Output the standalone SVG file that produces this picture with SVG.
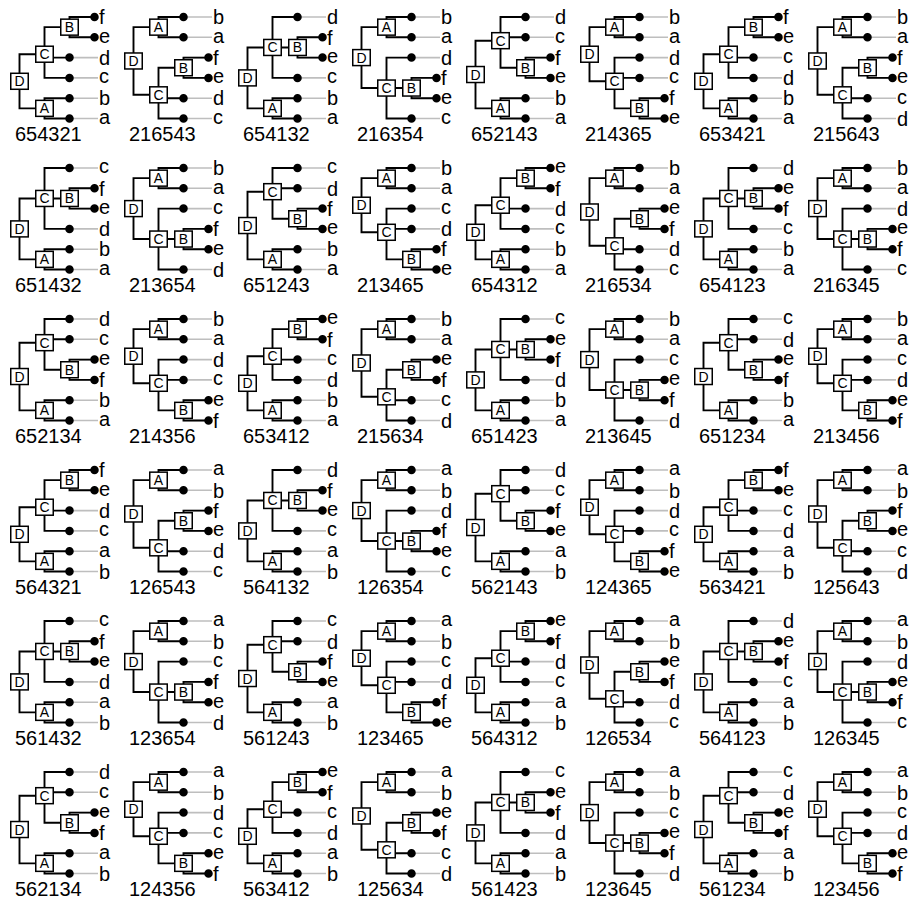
<svg xmlns="http://www.w3.org/2000/svg" xmlns:xlink="http://www.w3.org/1999/xlink" width="912" height="906" viewBox="0 0 912 906">
<style>
.e{fill:none;stroke:#000;stroke-width:1.9}
.g{fill:none;stroke:#bebebe;stroke-width:1.6}
.dt{fill:none;stroke:#000;stroke-width:8.5;stroke-linecap:round}
.bx{fill:#fff;stroke:#000;stroke-width:1.5}
text{font-family:"Liberation Sans",Arial,sans-serif;fill:#000}
.bt{font-size:14px;text-anchor:middle}
.lf,.lb{font-size:20px}
</style>
<defs>
<path id="gl" class="g" d="M69.5 17H98M69.5 37.3H98M69.5 57.6H98M69.5 77.9H98M69.5 98.2H98M69.5 118.5H98"/>
<rect id="bx" class="bx" x="-8.75" y="-8" width="17.5" height="16"/>
<path id="e1" class="e" d="M44.5 27.15H19.5V94.82H44.5M69.5 17H44.5V37.3H69.5M69.5 67.75H44.5V118.5H69.5M44.5 98.2H69.5M94.5 57.6H69.5V77.9H94.5"/>
<path id="e2" class="e" d="M44.5 27.15H19.5V88.05H44.5M69.5 17H44.5V37.3H69.5M69.5 57.6H44.5V118.5H69.5M44.5 88.05H69.5M94.5 77.9H69.5V98.2H94.5"/>
<path id="e3" class="e" d="M44.5 27.15H19.5V81.28H44.5M69.5 17H44.5V37.3H69.5M69.5 57.6H44.5V108.35H69.5M44.5 77.9H69.5M94.5 98.2H69.5V118.5H94.5"/>
<path id="e4" class="e" d="M44.5 54.22H19.5V108.35H44.5M69.5 98.2H44.5V118.5H69.5M69.5 27.15H44.5V77.9H69.5M44.5 57.6H69.5M94.5 17H69.5V37.3H94.5"/>
<path id="e5" class="e" d="M44.5 47.45H19.5V108.35H44.5M69.5 98.2H44.5V118.5H69.5M69.5 17H44.5V77.9H69.5M44.5 47.45H69.5M94.5 37.3H69.5V57.6H94.5"/>
<path id="e6" class="e" d="M44.5 40.68H19.5V108.35H44.5M69.5 98.2H44.5V118.5H69.5M69.5 17H44.5V67.75H69.5M44.5 37.3H69.5M94.5 57.6H69.5V77.9H94.5"/>
<path id="d1" class="dt" d="M69.5 17h.01M69.5 37.3h.01M69.5 98.2h.01M69.5 118.5h.01M94.5 57.6h.01M94.5 77.9h.01"/>
<path id="d2" class="dt" d="M69.5 17h.01M69.5 37.3h.01M69.5 57.6h.01M69.5 118.5h.01M94.5 77.9h.01M94.5 98.2h.01"/>
<path id="d3" class="dt" d="M69.5 17h.01M69.5 37.3h.01M69.5 57.6h.01M69.5 77.9h.01M94.5 98.2h.01M94.5 118.5h.01"/>
<path id="d4" class="dt" d="M69.5 57.6h.01M69.5 77.9h.01M69.5 98.2h.01M69.5 118.5h.01M94.5 17h.01M94.5 37.3h.01"/>
<path id="d5" class="dt" d="M69.5 17h.01M69.5 77.9h.01M69.5 98.2h.01M69.5 118.5h.01M94.5 37.3h.01M94.5 57.6h.01"/>
<path id="d6" class="dt" d="M69.5 17h.01M69.5 37.3h.01M69.5 98.2h.01M69.5 118.5h.01M94.5 57.6h.01M94.5 77.9h.01"/>
</defs>
<rect width="912" height="906" fill="#fff"/>

<g id="k1" transform="translate(0,0)">
<g class="conn"><use href="#gl"/><use href="#e4"/></g><use href="#d4"/>
<g id="k1D" transform="translate(19.5,81.28)"><use href="#bx"/><text class="bt" y="5">D</text></g>
<g id="k1A" transform="translate(44.5,108.35)"><use href="#bx"/><text class="bt" y="5">A</text></g>
<g id="k1C" transform="translate(44.5,54.22)"><use href="#bx"/><text class="bt" y="5">C</text></g>
<g id="k1B" transform="translate(69.5,27.15)"><use href="#bx"/><text class="bt" y="5">B</text></g>
<text class="lf" x="99" y="24.2">f</text><text class="lf" x="99" y="42.6">e</text><text class="lf" x="99" y="64.8">d</text><text class="lf" x="99" y="83.2">c</text><text class="lf" x="99" y="105.4">b</text><text class="lf" x="99" y="123.8">a</text>
<text class="lb" x="15" y="141">654321</text>
</g>

<g id="k2" transform="translate(114,0)">
<g class="conn"><use href="#gl"/><use href="#e1"/></g><use href="#d1"/>
<g id="k2D" transform="translate(19.5,60.98)"><use href="#bx"/><text class="bt" y="5">D</text></g>
<g id="k2A" transform="translate(44.5,27.15)"><use href="#bx"/><text class="bt" y="5">A</text></g>
<g id="k2C" transform="translate(44.5,94.82)"><use href="#bx"/><text class="bt" y="5">C</text></g>
<g id="k2B" transform="translate(69.5,67.75)"><use href="#bx"/><text class="bt" y="5">B</text></g>
<text class="lf" x="99" y="24.2">b</text><text class="lf" x="99" y="42.6">a</text><text class="lf" x="99" y="64.8">f</text><text class="lf" x="99" y="83.2">e</text><text class="lf" x="99" y="105.4">d</text><text class="lf" x="99" y="123.8">c</text>
<text class="lb" x="15" y="141">216543</text>
</g>

<g id="k3" transform="translate(228,0)">
<g class="conn"><use href="#gl"/><use href="#e5"/></g><use href="#d5"/>
<g id="k3D" transform="translate(19.5,77.9)"><use href="#bx"/><text class="bt" y="5">D</text></g>
<g id="k3A" transform="translate(44.5,108.35)"><use href="#bx"/><text class="bt" y="5">A</text></g>
<g id="k3C" transform="translate(44.5,47.45)"><use href="#bx"/><text class="bt" y="5">C</text></g>
<g id="k3B" transform="translate(69.5,47.45)"><use href="#bx"/><text class="bt" y="5">B</text></g>
<text class="lf" x="99" y="24.2">d</text><text class="lf" x="99" y="44.5">f</text><text class="lf" x="99" y="62.9">e</text><text class="lf" x="99" y="83.2">c</text><text class="lf" x="99" y="105.4">b</text><text class="lf" x="99" y="123.8">a</text>
<text class="lb" x="15" y="141">654132</text>
</g>

<g id="k4" transform="translate(342,0)">
<g class="conn"><use href="#gl"/><use href="#e2"/></g><use href="#d2"/>
<g id="k4D" transform="translate(19.5,57.6)"><use href="#bx"/><text class="bt" y="5">D</text></g>
<g id="k4A" transform="translate(44.5,27.15)"><use href="#bx"/><text class="bt" y="5">A</text></g>
<g id="k4C" transform="translate(44.5,88.05)"><use href="#bx"/><text class="bt" y="5">C</text></g>
<g id="k4B" transform="translate(69.5,88.05)"><use href="#bx"/><text class="bt" y="5">B</text></g>
<text class="lf" x="99" y="24.2">b</text><text class="lf" x="99" y="42.6">a</text><text class="lf" x="99" y="64.8">d</text><text class="lf" x="99" y="85.1">f</text><text class="lf" x="99" y="103.5">e</text><text class="lf" x="99" y="123.8">c</text>
<text class="lb" x="15" y="141">216354</text>
</g>

<g id="k5" transform="translate(456,0)">
<g class="conn"><use href="#gl"/><use href="#e6"/></g><use href="#d6"/>
<g id="k5D" transform="translate(19.5,74.52)"><use href="#bx"/><text class="bt" y="5">D</text></g>
<g id="k5A" transform="translate(44.5,108.35)"><use href="#bx"/><text class="bt" y="5">A</text></g>
<g id="k5C" transform="translate(44.5,40.68)"><use href="#bx"/><text class="bt" y="5">C</text></g>
<g id="k5B" transform="translate(69.5,67.75)"><use href="#bx"/><text class="bt" y="5">B</text></g>
<text class="lf" x="99" y="24.2">d</text><text class="lf" x="99" y="42.6">c</text><text class="lf" x="99" y="64.8">f</text><text class="lf" x="99" y="83.2">e</text><text class="lf" x="99" y="105.4">b</text><text class="lf" x="99" y="123.8">a</text>
<text class="lb" x="15" y="141">652143</text>
</g>

<g id="k6" transform="translate(570,0)">
<g class="conn"><use href="#gl"/><use href="#e3"/></g><use href="#d3"/>
<g id="k6D" transform="translate(19.5,54.22)"><use href="#bx"/><text class="bt" y="5">D</text></g>
<g id="k6A" transform="translate(44.5,27.15)"><use href="#bx"/><text class="bt" y="5">A</text></g>
<g id="k6C" transform="translate(44.5,81.28)"><use href="#bx"/><text class="bt" y="5">C</text></g>
<g id="k6B" transform="translate(69.5,108.35)"><use href="#bx"/><text class="bt" y="5">B</text></g>
<text class="lf" x="99" y="24.2">b</text><text class="lf" x="99" y="42.6">a</text><text class="lf" x="99" y="64.8">d</text><text class="lf" x="99" y="83.2">c</text><text class="lf" x="99" y="105.4">f</text><text class="lf" x="99" y="123.8">e</text>
<text class="lb" x="15" y="141">214365</text>
</g>

<g id="k7" transform="translate(684,0)">
<g class="conn"><use href="#gl"/><use href="#e4"/></g><use href="#d4"/>
<g id="k7D" transform="translate(19.5,81.28)"><use href="#bx"/><text class="bt" y="5">D</text></g>
<g id="k7A" transform="translate(44.5,108.35)"><use href="#bx"/><text class="bt" y="5">A</text></g>
<g id="k7C" transform="translate(44.5,54.22)"><use href="#bx"/><text class="bt" y="5">C</text></g>
<g id="k7B" transform="translate(69.5,27.15)"><use href="#bx"/><text class="bt" y="5">B</text></g>
<text class="lf" x="99" y="24.2">f</text><text class="lf" x="99" y="42.6">e</text><text class="lf" x="99" y="62.9">c</text><text class="lf" x="99" y="85.1">d</text><text class="lf" x="99" y="105.4">b</text><text class="lf" x="99" y="123.8">a</text>
<text class="lb" x="15" y="141">653421</text>
</g>

<g id="k8" transform="translate(798,0)">
<g class="conn"><use href="#gl"/><use href="#e1"/></g><use href="#d1"/>
<g id="k8D" transform="translate(19.5,60.98)"><use href="#bx"/><text class="bt" y="5">D</text></g>
<g id="k8A" transform="translate(44.5,27.15)"><use href="#bx"/><text class="bt" y="5">A</text></g>
<g id="k8C" transform="translate(44.5,94.82)"><use href="#bx"/><text class="bt" y="5">C</text></g>
<g id="k8B" transform="translate(69.5,67.75)"><use href="#bx"/><text class="bt" y="5">B</text></g>
<text class="lf" x="99" y="24.2">b</text><text class="lf" x="99" y="42.6">a</text><text class="lf" x="99" y="64.8">f</text><text class="lf" x="99" y="83.2">e</text><text class="lf" x="99" y="103.5">c</text><text class="lf" x="99" y="125.7">d</text>
<text class="lb" x="15" y="141">215643</text>
</g>

<g id="k9" transform="translate(0,151)">
<g class="conn"><use href="#gl"/><use href="#e5"/></g><use href="#d5"/>
<g id="k9D" transform="translate(19.5,77.9)"><use href="#bx"/><text class="bt" y="5">D</text></g>
<g id="k9A" transform="translate(44.5,108.35)"><use href="#bx"/><text class="bt" y="5">A</text></g>
<g id="k9C" transform="translate(44.5,47.45)"><use href="#bx"/><text class="bt" y="5">C</text></g>
<g id="k9B" transform="translate(69.5,47.45)"><use href="#bx"/><text class="bt" y="5">B</text></g>
<text class="lf" x="99" y="22.3">c</text><text class="lf" x="99" y="44.5">f</text><text class="lf" x="99" y="62.9">e</text><text class="lf" x="99" y="85.1">d</text><text class="lf" x="99" y="105.4">b</text><text class="lf" x="99" y="123.8">a</text>
<text class="lb" x="15" y="141">651432</text>
</g>

<g id="k10" transform="translate(114,151)">
<g class="conn"><use href="#gl"/><use href="#e2"/></g><use href="#d2"/>
<g id="k10D" transform="translate(19.5,57.6)"><use href="#bx"/><text class="bt" y="5">D</text></g>
<g id="k10A" transform="translate(44.5,27.15)"><use href="#bx"/><text class="bt" y="5">A</text></g>
<g id="k10C" transform="translate(44.5,88.05)"><use href="#bx"/><text class="bt" y="5">C</text></g>
<g id="k10B" transform="translate(69.5,88.05)"><use href="#bx"/><text class="bt" y="5">B</text></g>
<text class="lf" x="99" y="24.2">b</text><text class="lf" x="99" y="42.6">a</text><text class="lf" x="99" y="62.9">c</text><text class="lf" x="99" y="85.1">f</text><text class="lf" x="99" y="103.5">e</text><text class="lf" x="99" y="125.7">d</text>
<text class="lb" x="15" y="141">213654</text>
</g>

<g id="k11" transform="translate(228,151)">
<g class="conn"><use href="#gl"/><use href="#e6"/></g><use href="#d6"/>
<g id="k11D" transform="translate(19.5,74.52)"><use href="#bx"/><text class="bt" y="5">D</text></g>
<g id="k11A" transform="translate(44.5,108.35)"><use href="#bx"/><text class="bt" y="5">A</text></g>
<g id="k11C" transform="translate(44.5,40.68)"><use href="#bx"/><text class="bt" y="5">C</text></g>
<g id="k11B" transform="translate(69.5,67.75)"><use href="#bx"/><text class="bt" y="5">B</text></g>
<text class="lf" x="99" y="22.3">c</text><text class="lf" x="99" y="44.5">d</text><text class="lf" x="99" y="64.8">f</text><text class="lf" x="99" y="83.2">e</text><text class="lf" x="99" y="105.4">b</text><text class="lf" x="99" y="123.8">a</text>
<text class="lb" x="15" y="141">651243</text>
</g>

<g id="k12" transform="translate(342,151)">
<g class="conn"><use href="#gl"/><use href="#e3"/></g><use href="#d3"/>
<g id="k12D" transform="translate(19.5,54.22)"><use href="#bx"/><text class="bt" y="5">D</text></g>
<g id="k12A" transform="translate(44.5,27.15)"><use href="#bx"/><text class="bt" y="5">A</text></g>
<g id="k12C" transform="translate(44.5,81.28)"><use href="#bx"/><text class="bt" y="5">C</text></g>
<g id="k12B" transform="translate(69.5,108.35)"><use href="#bx"/><text class="bt" y="5">B</text></g>
<text class="lf" x="99" y="24.2">b</text><text class="lf" x="99" y="42.6">a</text><text class="lf" x="99" y="62.9">c</text><text class="lf" x="99" y="85.1">d</text><text class="lf" x="99" y="105.4">f</text><text class="lf" x="99" y="123.8">e</text>
<text class="lb" x="15" y="141">213465</text>
</g>

<g id="k13" transform="translate(456,151)">
<g class="conn"><use href="#gl"/><use href="#e4"/></g><use href="#d4"/>
<g id="k13D" transform="translate(19.5,81.28)"><use href="#bx"/><text class="bt" y="5">D</text></g>
<g id="k13A" transform="translate(44.5,108.35)"><use href="#bx"/><text class="bt" y="5">A</text></g>
<g id="k13C" transform="translate(44.5,54.22)"><use href="#bx"/><text class="bt" y="5">C</text></g>
<g id="k13B" transform="translate(69.5,27.15)"><use href="#bx"/><text class="bt" y="5">B</text></g>
<text class="lf" x="99" y="22.3">e</text><text class="lf" x="99" y="44.5">f</text><text class="lf" x="99" y="64.8">d</text><text class="lf" x="99" y="83.2">c</text><text class="lf" x="99" y="105.4">b</text><text class="lf" x="99" y="123.8">a</text>
<text class="lb" x="15" y="141">654312</text>
</g>

<g id="k14" transform="translate(570,151)">
<g class="conn"><use href="#gl"/><use href="#e1"/></g><use href="#d1"/>
<g id="k14D" transform="translate(19.5,60.98)"><use href="#bx"/><text class="bt" y="5">D</text></g>
<g id="k14A" transform="translate(44.5,27.15)"><use href="#bx"/><text class="bt" y="5">A</text></g>
<g id="k14C" transform="translate(44.5,94.82)"><use href="#bx"/><text class="bt" y="5">C</text></g>
<g id="k14B" transform="translate(69.5,67.75)"><use href="#bx"/><text class="bt" y="5">B</text></g>
<text class="lf" x="99" y="24.2">b</text><text class="lf" x="99" y="42.6">a</text><text class="lf" x="99" y="62.9">e</text><text class="lf" x="99" y="85.1">f</text><text class="lf" x="99" y="105.4">d</text><text class="lf" x="99" y="123.8">c</text>
<text class="lb" x="15" y="141">216534</text>
</g>

<g id="k15" transform="translate(684,151)">
<g class="conn"><use href="#gl"/><use href="#e5"/></g><use href="#d5"/>
<g id="k15D" transform="translate(19.5,77.9)"><use href="#bx"/><text class="bt" y="5">D</text></g>
<g id="k15A" transform="translate(44.5,108.35)"><use href="#bx"/><text class="bt" y="5">A</text></g>
<g id="k15C" transform="translate(44.5,47.45)"><use href="#bx"/><text class="bt" y="5">C</text></g>
<g id="k15B" transform="translate(69.5,47.45)"><use href="#bx"/><text class="bt" y="5">B</text></g>
<text class="lf" x="99" y="24.2">d</text><text class="lf" x="99" y="42.6">e</text><text class="lf" x="99" y="64.8">f</text><text class="lf" x="99" y="83.2">c</text><text class="lf" x="99" y="105.4">b</text><text class="lf" x="99" y="123.8">a</text>
<text class="lb" x="15" y="141">654123</text>
</g>

<g id="k16" transform="translate(798,151)">
<g class="conn"><use href="#gl"/><use href="#e2"/></g><use href="#d2"/>
<g id="k16D" transform="translate(19.5,57.6)"><use href="#bx"/><text class="bt" y="5">D</text></g>
<g id="k16A" transform="translate(44.5,27.15)"><use href="#bx"/><text class="bt" y="5">A</text></g>
<g id="k16C" transform="translate(44.5,88.05)"><use href="#bx"/><text class="bt" y="5">C</text></g>
<g id="k16B" transform="translate(69.5,88.05)"><use href="#bx"/><text class="bt" y="5">B</text></g>
<text class="lf" x="99" y="24.2">b</text><text class="lf" x="99" y="42.6">a</text><text class="lf" x="99" y="64.8">d</text><text class="lf" x="99" y="83.2">e</text><text class="lf" x="99" y="105.4">f</text><text class="lf" x="99" y="123.8">c</text>
<text class="lb" x="15" y="141">216345</text>
</g>

<g id="k17" transform="translate(0,302)">
<g class="conn"><use href="#gl"/><use href="#e6"/></g><use href="#d6"/>
<g id="k17D" transform="translate(19.5,74.52)"><use href="#bx"/><text class="bt" y="5">D</text></g>
<g id="k17A" transform="translate(44.5,108.35)"><use href="#bx"/><text class="bt" y="5">A</text></g>
<g id="k17C" transform="translate(44.5,40.68)"><use href="#bx"/><text class="bt" y="5">C</text></g>
<g id="k17B" transform="translate(69.5,67.75)"><use href="#bx"/><text class="bt" y="5">B</text></g>
<text class="lf" x="99" y="24.2">d</text><text class="lf" x="99" y="42.6">c</text><text class="lf" x="99" y="62.9">e</text><text class="lf" x="99" y="85.1">f</text><text class="lf" x="99" y="105.4">b</text><text class="lf" x="99" y="123.8">a</text>
<text class="lb" x="15" y="141">652134</text>
</g>

<g id="k18" transform="translate(114,302)">
<g class="conn"><use href="#gl"/><use href="#e3"/></g><use href="#d3"/>
<g id="k18D" transform="translate(19.5,54.22)"><use href="#bx"/><text class="bt" y="5">D</text></g>
<g id="k18A" transform="translate(44.5,27.15)"><use href="#bx"/><text class="bt" y="5">A</text></g>
<g id="k18C" transform="translate(44.5,81.28)"><use href="#bx"/><text class="bt" y="5">C</text></g>
<g id="k18B" transform="translate(69.5,108.35)"><use href="#bx"/><text class="bt" y="5">B</text></g>
<text class="lf" x="99" y="24.2">b</text><text class="lf" x="99" y="42.6">a</text><text class="lf" x="99" y="64.8">d</text><text class="lf" x="99" y="83.2">c</text><text class="lf" x="99" y="103.5">e</text><text class="lf" x="99" y="125.7">f</text>
<text class="lb" x="15" y="141">214356</text>
</g>

<g id="k19" transform="translate(228,302)">
<g class="conn"><use href="#gl"/><use href="#e4"/></g><use href="#d4"/>
<g id="k19D" transform="translate(19.5,81.28)"><use href="#bx"/><text class="bt" y="5">D</text></g>
<g id="k19A" transform="translate(44.5,108.35)"><use href="#bx"/><text class="bt" y="5">A</text></g>
<g id="k19C" transform="translate(44.5,54.22)"><use href="#bx"/><text class="bt" y="5">C</text></g>
<g id="k19B" transform="translate(69.5,27.15)"><use href="#bx"/><text class="bt" y="5">B</text></g>
<text class="lf" x="99" y="22.3">e</text><text class="lf" x="99" y="44.5">f</text><text class="lf" x="99" y="62.9">c</text><text class="lf" x="99" y="85.1">d</text><text class="lf" x="99" y="105.4">b</text><text class="lf" x="99" y="123.8">a</text>
<text class="lb" x="15" y="141">653412</text>
</g>

<g id="k20" transform="translate(342,302)">
<g class="conn"><use href="#gl"/><use href="#e1"/></g><use href="#d1"/>
<g id="k20D" transform="translate(19.5,60.98)"><use href="#bx"/><text class="bt" y="5">D</text></g>
<g id="k20A" transform="translate(44.5,27.15)"><use href="#bx"/><text class="bt" y="5">A</text></g>
<g id="k20C" transform="translate(44.5,94.82)"><use href="#bx"/><text class="bt" y="5">C</text></g>
<g id="k20B" transform="translate(69.5,67.75)"><use href="#bx"/><text class="bt" y="5">B</text></g>
<text class="lf" x="99" y="24.2">b</text><text class="lf" x="99" y="42.6">a</text><text class="lf" x="99" y="62.9">e</text><text class="lf" x="99" y="85.1">f</text><text class="lf" x="99" y="103.5">c</text><text class="lf" x="99" y="125.7">d</text>
<text class="lb" x="15" y="141">215634</text>
</g>

<g id="k21" transform="translate(456,302)">
<g class="conn"><use href="#gl"/><use href="#e5"/></g><use href="#d5"/>
<g id="k21D" transform="translate(19.5,77.9)"><use href="#bx"/><text class="bt" y="5">D</text></g>
<g id="k21A" transform="translate(44.5,108.35)"><use href="#bx"/><text class="bt" y="5">A</text></g>
<g id="k21C" transform="translate(44.5,47.45)"><use href="#bx"/><text class="bt" y="5">C</text></g>
<g id="k21B" transform="translate(69.5,47.45)"><use href="#bx"/><text class="bt" y="5">B</text></g>
<text class="lf" x="99" y="22.3">c</text><text class="lf" x="99" y="42.6">e</text><text class="lf" x="99" y="64.8">f</text><text class="lf" x="99" y="85.1">d</text><text class="lf" x="99" y="105.4">b</text><text class="lf" x="99" y="123.8">a</text>
<text class="lb" x="15" y="141">651423</text>
</g>

<g id="k22" transform="translate(570,302)">
<g class="conn"><use href="#gl"/><use href="#e2"/></g><use href="#d2"/>
<g id="k22D" transform="translate(19.5,57.6)"><use href="#bx"/><text class="bt" y="5">D</text></g>
<g id="k22A" transform="translate(44.5,27.15)"><use href="#bx"/><text class="bt" y="5">A</text></g>
<g id="k22C" transform="translate(44.5,88.05)"><use href="#bx"/><text class="bt" y="5">C</text></g>
<g id="k22B" transform="translate(69.5,88.05)"><use href="#bx"/><text class="bt" y="5">B</text></g>
<text class="lf" x="99" y="24.2">b</text><text class="lf" x="99" y="42.6">a</text><text class="lf" x="99" y="62.9">c</text><text class="lf" x="99" y="83.2">e</text><text class="lf" x="99" y="105.4">f</text><text class="lf" x="99" y="125.7">d</text>
<text class="lb" x="15" y="141">213645</text>
</g>

<g id="k23" transform="translate(684,302)">
<g class="conn"><use href="#gl"/><use href="#e6"/></g><use href="#d6"/>
<g id="k23D" transform="translate(19.5,74.52)"><use href="#bx"/><text class="bt" y="5">D</text></g>
<g id="k23A" transform="translate(44.5,108.35)"><use href="#bx"/><text class="bt" y="5">A</text></g>
<g id="k23C" transform="translate(44.5,40.68)"><use href="#bx"/><text class="bt" y="5">C</text></g>
<g id="k23B" transform="translate(69.5,67.75)"><use href="#bx"/><text class="bt" y="5">B</text></g>
<text class="lf" x="99" y="22.3">c</text><text class="lf" x="99" y="44.5">d</text><text class="lf" x="99" y="62.9">e</text><text class="lf" x="99" y="85.1">f</text><text class="lf" x="99" y="105.4">b</text><text class="lf" x="99" y="123.8">a</text>
<text class="lb" x="15" y="141">651234</text>
</g>

<g id="k24" transform="translate(798,302)">
<g class="conn"><use href="#gl"/><use href="#e3"/></g><use href="#d3"/>
<g id="k24D" transform="translate(19.5,54.22)"><use href="#bx"/><text class="bt" y="5">D</text></g>
<g id="k24A" transform="translate(44.5,27.15)"><use href="#bx"/><text class="bt" y="5">A</text></g>
<g id="k24C" transform="translate(44.5,81.28)"><use href="#bx"/><text class="bt" y="5">C</text></g>
<g id="k24B" transform="translate(69.5,108.35)"><use href="#bx"/><text class="bt" y="5">B</text></g>
<text class="lf" x="99" y="24.2">b</text><text class="lf" x="99" y="42.6">a</text><text class="lf" x="99" y="62.9">c</text><text class="lf" x="99" y="85.1">d</text><text class="lf" x="99" y="103.5">e</text><text class="lf" x="99" y="125.7">f</text>
<text class="lb" x="15" y="141">213456</text>
</g>

<g id="k25" transform="translate(0,453)">
<g class="conn"><use href="#gl"/><use href="#e4"/></g><use href="#d4"/>
<g id="k25D" transform="translate(19.5,81.28)"><use href="#bx"/><text class="bt" y="5">D</text></g>
<g id="k25A" transform="translate(44.5,108.35)"><use href="#bx"/><text class="bt" y="5">A</text></g>
<g id="k25C" transform="translate(44.5,54.22)"><use href="#bx"/><text class="bt" y="5">C</text></g>
<g id="k25B" transform="translate(69.5,27.15)"><use href="#bx"/><text class="bt" y="5">B</text></g>
<text class="lf" x="99" y="24.2">f</text><text class="lf" x="99" y="42.6">e</text><text class="lf" x="99" y="64.8">d</text><text class="lf" x="99" y="83.2">c</text><text class="lf" x="99" y="103.5">a</text><text class="lf" x="99" y="125.7">b</text>
<text class="lb" x="15" y="141">564321</text>
</g>

<g id="k26" transform="translate(114,453)">
<g class="conn"><use href="#gl"/><use href="#e1"/></g><use href="#d1"/>
<g id="k26D" transform="translate(19.5,60.98)"><use href="#bx"/><text class="bt" y="5">D</text></g>
<g id="k26A" transform="translate(44.5,27.15)"><use href="#bx"/><text class="bt" y="5">A</text></g>
<g id="k26C" transform="translate(44.5,94.82)"><use href="#bx"/><text class="bt" y="5">C</text></g>
<g id="k26B" transform="translate(69.5,67.75)"><use href="#bx"/><text class="bt" y="5">B</text></g>
<text class="lf" x="99" y="22.3">a</text><text class="lf" x="99" y="44.5">b</text><text class="lf" x="99" y="64.8">f</text><text class="lf" x="99" y="83.2">e</text><text class="lf" x="99" y="105.4">d</text><text class="lf" x="99" y="123.8">c</text>
<text class="lb" x="15" y="141">126543</text>
</g>

<g id="k27" transform="translate(228,453)">
<g class="conn"><use href="#gl"/><use href="#e5"/></g><use href="#d5"/>
<g id="k27D" transform="translate(19.5,77.9)"><use href="#bx"/><text class="bt" y="5">D</text></g>
<g id="k27A" transform="translate(44.5,108.35)"><use href="#bx"/><text class="bt" y="5">A</text></g>
<g id="k27C" transform="translate(44.5,47.45)"><use href="#bx"/><text class="bt" y="5">C</text></g>
<g id="k27B" transform="translate(69.5,47.45)"><use href="#bx"/><text class="bt" y="5">B</text></g>
<text class="lf" x="99" y="24.2">d</text><text class="lf" x="99" y="44.5">f</text><text class="lf" x="99" y="62.9">e</text><text class="lf" x="99" y="83.2">c</text><text class="lf" x="99" y="103.5">a</text><text class="lf" x="99" y="125.7">b</text>
<text class="lb" x="15" y="141">564132</text>
</g>

<g id="k28" transform="translate(342,453)">
<g class="conn"><use href="#gl"/><use href="#e2"/></g><use href="#d2"/>
<g id="k28D" transform="translate(19.5,57.6)"><use href="#bx"/><text class="bt" y="5">D</text></g>
<g id="k28A" transform="translate(44.5,27.15)"><use href="#bx"/><text class="bt" y="5">A</text></g>
<g id="k28C" transform="translate(44.5,88.05)"><use href="#bx"/><text class="bt" y="5">C</text></g>
<g id="k28B" transform="translate(69.5,88.05)"><use href="#bx"/><text class="bt" y="5">B</text></g>
<text class="lf" x="99" y="22.3">a</text><text class="lf" x="99" y="44.5">b</text><text class="lf" x="99" y="64.8">d</text><text class="lf" x="99" y="85.1">f</text><text class="lf" x="99" y="103.5">e</text><text class="lf" x="99" y="123.8">c</text>
<text class="lb" x="15" y="141">126354</text>
</g>

<g id="k29" transform="translate(456,453)">
<g class="conn"><use href="#gl"/><use href="#e6"/></g><use href="#d6"/>
<g id="k29D" transform="translate(19.5,74.52)"><use href="#bx"/><text class="bt" y="5">D</text></g>
<g id="k29A" transform="translate(44.5,108.35)"><use href="#bx"/><text class="bt" y="5">A</text></g>
<g id="k29C" transform="translate(44.5,40.68)"><use href="#bx"/><text class="bt" y="5">C</text></g>
<g id="k29B" transform="translate(69.5,67.75)"><use href="#bx"/><text class="bt" y="5">B</text></g>
<text class="lf" x="99" y="24.2">d</text><text class="lf" x="99" y="42.6">c</text><text class="lf" x="99" y="64.8">f</text><text class="lf" x="99" y="83.2">e</text><text class="lf" x="99" y="103.5">a</text><text class="lf" x="99" y="125.7">b</text>
<text class="lb" x="15" y="141">562143</text>
</g>

<g id="k30" transform="translate(570,453)">
<g class="conn"><use href="#gl"/><use href="#e3"/></g><use href="#d3"/>
<g id="k30D" transform="translate(19.5,54.22)"><use href="#bx"/><text class="bt" y="5">D</text></g>
<g id="k30A" transform="translate(44.5,27.15)"><use href="#bx"/><text class="bt" y="5">A</text></g>
<g id="k30C" transform="translate(44.5,81.28)"><use href="#bx"/><text class="bt" y="5">C</text></g>
<g id="k30B" transform="translate(69.5,108.35)"><use href="#bx"/><text class="bt" y="5">B</text></g>
<text class="lf" x="99" y="22.3">a</text><text class="lf" x="99" y="44.5">b</text><text class="lf" x="99" y="64.8">d</text><text class="lf" x="99" y="83.2">c</text><text class="lf" x="99" y="105.4">f</text><text class="lf" x="99" y="123.8">e</text>
<text class="lb" x="15" y="141">124365</text>
</g>

<g id="k31" transform="translate(684,453)">
<g class="conn"><use href="#gl"/><use href="#e4"/></g><use href="#d4"/>
<g id="k31D" transform="translate(19.5,81.28)"><use href="#bx"/><text class="bt" y="5">D</text></g>
<g id="k31A" transform="translate(44.5,108.35)"><use href="#bx"/><text class="bt" y="5">A</text></g>
<g id="k31C" transform="translate(44.5,54.22)"><use href="#bx"/><text class="bt" y="5">C</text></g>
<g id="k31B" transform="translate(69.5,27.15)"><use href="#bx"/><text class="bt" y="5">B</text></g>
<text class="lf" x="99" y="24.2">f</text><text class="lf" x="99" y="42.6">e</text><text class="lf" x="99" y="62.9">c</text><text class="lf" x="99" y="85.1">d</text><text class="lf" x="99" y="103.5">a</text><text class="lf" x="99" y="125.7">b</text>
<text class="lb" x="15" y="141">563421</text>
</g>

<g id="k32" transform="translate(798,453)">
<g class="conn"><use href="#gl"/><use href="#e1"/></g><use href="#d1"/>
<g id="k32D" transform="translate(19.5,60.98)"><use href="#bx"/><text class="bt" y="5">D</text></g>
<g id="k32A" transform="translate(44.5,27.15)"><use href="#bx"/><text class="bt" y="5">A</text></g>
<g id="k32C" transform="translate(44.5,94.82)"><use href="#bx"/><text class="bt" y="5">C</text></g>
<g id="k32B" transform="translate(69.5,67.75)"><use href="#bx"/><text class="bt" y="5">B</text></g>
<text class="lf" x="99" y="22.3">a</text><text class="lf" x="99" y="44.5">b</text><text class="lf" x="99" y="64.8">f</text><text class="lf" x="99" y="83.2">e</text><text class="lf" x="99" y="103.5">c</text><text class="lf" x="99" y="125.7">d</text>
<text class="lb" x="15" y="141">125643</text>
</g>

<g id="k33" transform="translate(0,604)">
<g class="conn"><use href="#gl"/><use href="#e5"/></g><use href="#d5"/>
<g id="k33D" transform="translate(19.5,77.9)"><use href="#bx"/><text class="bt" y="5">D</text></g>
<g id="k33A" transform="translate(44.5,108.35)"><use href="#bx"/><text class="bt" y="5">A</text></g>
<g id="k33C" transform="translate(44.5,47.45)"><use href="#bx"/><text class="bt" y="5">C</text></g>
<g id="k33B" transform="translate(69.5,47.45)"><use href="#bx"/><text class="bt" y="5">B</text></g>
<text class="lf" x="99" y="22.3">c</text><text class="lf" x="99" y="44.5">f</text><text class="lf" x="99" y="62.9">e</text><text class="lf" x="99" y="85.1">d</text><text class="lf" x="99" y="103.5">a</text><text class="lf" x="99" y="125.7">b</text>
<text class="lb" x="15" y="141">561432</text>
</g>

<g id="k34" transform="translate(114,604)">
<g class="conn"><use href="#gl"/><use href="#e2"/></g><use href="#d2"/>
<g id="k34D" transform="translate(19.5,57.6)"><use href="#bx"/><text class="bt" y="5">D</text></g>
<g id="k34A" transform="translate(44.5,27.15)"><use href="#bx"/><text class="bt" y="5">A</text></g>
<g id="k34C" transform="translate(44.5,88.05)"><use href="#bx"/><text class="bt" y="5">C</text></g>
<g id="k34B" transform="translate(69.5,88.05)"><use href="#bx"/><text class="bt" y="5">B</text></g>
<text class="lf" x="99" y="22.3">a</text><text class="lf" x="99" y="44.5">b</text><text class="lf" x="99" y="62.9">c</text><text class="lf" x="99" y="85.1">f</text><text class="lf" x="99" y="103.5">e</text><text class="lf" x="99" y="125.7">d</text>
<text class="lb" x="15" y="141">123654</text>
</g>

<g id="k35" transform="translate(228,604)">
<g class="conn"><use href="#gl"/><use href="#e6"/></g><use href="#d6"/>
<g id="k35D" transform="translate(19.5,74.52)"><use href="#bx"/><text class="bt" y="5">D</text></g>
<g id="k35A" transform="translate(44.5,108.35)"><use href="#bx"/><text class="bt" y="5">A</text></g>
<g id="k35C" transform="translate(44.5,40.68)"><use href="#bx"/><text class="bt" y="5">C</text></g>
<g id="k35B" transform="translate(69.5,67.75)"><use href="#bx"/><text class="bt" y="5">B</text></g>
<text class="lf" x="99" y="22.3">c</text><text class="lf" x="99" y="44.5">d</text><text class="lf" x="99" y="64.8">f</text><text class="lf" x="99" y="83.2">e</text><text class="lf" x="99" y="103.5">a</text><text class="lf" x="99" y="125.7">b</text>
<text class="lb" x="15" y="141">561243</text>
</g>

<g id="k36" transform="translate(342,604)">
<g class="conn"><use href="#gl"/><use href="#e3"/></g><use href="#d3"/>
<g id="k36D" transform="translate(19.5,54.22)"><use href="#bx"/><text class="bt" y="5">D</text></g>
<g id="k36A" transform="translate(44.5,27.15)"><use href="#bx"/><text class="bt" y="5">A</text></g>
<g id="k36C" transform="translate(44.5,81.28)"><use href="#bx"/><text class="bt" y="5">C</text></g>
<g id="k36B" transform="translate(69.5,108.35)"><use href="#bx"/><text class="bt" y="5">B</text></g>
<text class="lf" x="99" y="22.3">a</text><text class="lf" x="99" y="44.5">b</text><text class="lf" x="99" y="62.9">c</text><text class="lf" x="99" y="85.1">d</text><text class="lf" x="99" y="105.4">f</text><text class="lf" x="99" y="123.8">e</text>
<text class="lb" x="15" y="141">123465</text>
</g>

<g id="k37" transform="translate(456,604)">
<g class="conn"><use href="#gl"/><use href="#e4"/></g><use href="#d4"/>
<g id="k37D" transform="translate(19.5,81.28)"><use href="#bx"/><text class="bt" y="5">D</text></g>
<g id="k37A" transform="translate(44.5,108.35)"><use href="#bx"/><text class="bt" y="5">A</text></g>
<g id="k37C" transform="translate(44.5,54.22)"><use href="#bx"/><text class="bt" y="5">C</text></g>
<g id="k37B" transform="translate(69.5,27.15)"><use href="#bx"/><text class="bt" y="5">B</text></g>
<text class="lf" x="99" y="22.3">e</text><text class="lf" x="99" y="44.5">f</text><text class="lf" x="99" y="64.8">d</text><text class="lf" x="99" y="83.2">c</text><text class="lf" x="99" y="103.5">a</text><text class="lf" x="99" y="125.7">b</text>
<text class="lb" x="15" y="141">564312</text>
</g>

<g id="k38" transform="translate(570,604)">
<g class="conn"><use href="#gl"/><use href="#e1"/></g><use href="#d1"/>
<g id="k38D" transform="translate(19.5,60.98)"><use href="#bx"/><text class="bt" y="5">D</text></g>
<g id="k38A" transform="translate(44.5,27.15)"><use href="#bx"/><text class="bt" y="5">A</text></g>
<g id="k38C" transform="translate(44.5,94.82)"><use href="#bx"/><text class="bt" y="5">C</text></g>
<g id="k38B" transform="translate(69.5,67.75)"><use href="#bx"/><text class="bt" y="5">B</text></g>
<text class="lf" x="99" y="22.3">a</text><text class="lf" x="99" y="44.5">b</text><text class="lf" x="99" y="62.9">e</text><text class="lf" x="99" y="85.1">f</text><text class="lf" x="99" y="105.4">d</text><text class="lf" x="99" y="123.8">c</text>
<text class="lb" x="15" y="141">126534</text>
</g>

<g id="k39" transform="translate(684,604)">
<g class="conn"><use href="#gl"/><use href="#e5"/></g><use href="#d5"/>
<g id="k39D" transform="translate(19.5,77.9)"><use href="#bx"/><text class="bt" y="5">D</text></g>
<g id="k39A" transform="translate(44.5,108.35)"><use href="#bx"/><text class="bt" y="5">A</text></g>
<g id="k39C" transform="translate(44.5,47.45)"><use href="#bx"/><text class="bt" y="5">C</text></g>
<g id="k39B" transform="translate(69.5,47.45)"><use href="#bx"/><text class="bt" y="5">B</text></g>
<text class="lf" x="99" y="24.2">d</text><text class="lf" x="99" y="42.6">e</text><text class="lf" x="99" y="64.8">f</text><text class="lf" x="99" y="83.2">c</text><text class="lf" x="99" y="103.5">a</text><text class="lf" x="99" y="125.7">b</text>
<text class="lb" x="15" y="141">564123</text>
</g>

<g id="k40" transform="translate(798,604)">
<g class="conn"><use href="#gl"/><use href="#e2"/></g><use href="#d2"/>
<g id="k40D" transform="translate(19.5,57.6)"><use href="#bx"/><text class="bt" y="5">D</text></g>
<g id="k40A" transform="translate(44.5,27.15)"><use href="#bx"/><text class="bt" y="5">A</text></g>
<g id="k40C" transform="translate(44.5,88.05)"><use href="#bx"/><text class="bt" y="5">C</text></g>
<g id="k40B" transform="translate(69.5,88.05)"><use href="#bx"/><text class="bt" y="5">B</text></g>
<text class="lf" x="99" y="22.3">a</text><text class="lf" x="99" y="44.5">b</text><text class="lf" x="99" y="64.8">d</text><text class="lf" x="99" y="83.2">e</text><text class="lf" x="99" y="105.4">f</text><text class="lf" x="99" y="123.8">c</text>
<text class="lb" x="15" y="141">126345</text>
</g>

<g id="k41" transform="translate(0,755)">
<g class="conn"><use href="#gl"/><use href="#e6"/></g><use href="#d6"/>
<g id="k41D" transform="translate(19.5,74.52)"><use href="#bx"/><text class="bt" y="5">D</text></g>
<g id="k41A" transform="translate(44.5,108.35)"><use href="#bx"/><text class="bt" y="5">A</text></g>
<g id="k41C" transform="translate(44.5,40.68)"><use href="#bx"/><text class="bt" y="5">C</text></g>
<g id="k41B" transform="translate(69.5,67.75)"><use href="#bx"/><text class="bt" y="5">B</text></g>
<text class="lf" x="99" y="24.2">d</text><text class="lf" x="99" y="42.6">c</text><text class="lf" x="99" y="62.9">e</text><text class="lf" x="99" y="85.1">f</text><text class="lf" x="99" y="103.5">a</text><text class="lf" x="99" y="125.7">b</text>
<text class="lb" x="15" y="141">562134</text>
</g>

<g id="k42" transform="translate(114,755)">
<g class="conn"><use href="#gl"/><use href="#e3"/></g><use href="#d3"/>
<g id="k42D" transform="translate(19.5,54.22)"><use href="#bx"/><text class="bt" y="5">D</text></g>
<g id="k42A" transform="translate(44.5,27.15)"><use href="#bx"/><text class="bt" y="5">A</text></g>
<g id="k42C" transform="translate(44.5,81.28)"><use href="#bx"/><text class="bt" y="5">C</text></g>
<g id="k42B" transform="translate(69.5,108.35)"><use href="#bx"/><text class="bt" y="5">B</text></g>
<text class="lf" x="99" y="22.3">a</text><text class="lf" x="99" y="44.5">b</text><text class="lf" x="99" y="64.8">d</text><text class="lf" x="99" y="83.2">c</text><text class="lf" x="99" y="103.5">e</text><text class="lf" x="99" y="125.7">f</text>
<text class="lb" x="15" y="141">124356</text>
</g>

<g id="k43" transform="translate(228,755)">
<g class="conn"><use href="#gl"/><use href="#e4"/></g><use href="#d4"/>
<g id="k43D" transform="translate(19.5,81.28)"><use href="#bx"/><text class="bt" y="5">D</text></g>
<g id="k43A" transform="translate(44.5,108.35)"><use href="#bx"/><text class="bt" y="5">A</text></g>
<g id="k43C" transform="translate(44.5,54.22)"><use href="#bx"/><text class="bt" y="5">C</text></g>
<g id="k43B" transform="translate(69.5,27.15)"><use href="#bx"/><text class="bt" y="5">B</text></g>
<text class="lf" x="99" y="22.3">e</text><text class="lf" x="99" y="44.5">f</text><text class="lf" x="99" y="62.9">c</text><text class="lf" x="99" y="85.1">d</text><text class="lf" x="99" y="103.5">a</text><text class="lf" x="99" y="125.7">b</text>
<text class="lb" x="15" y="141">563412</text>
</g>

<g id="k44" transform="translate(342,755)">
<g class="conn"><use href="#gl"/><use href="#e1"/></g><use href="#d1"/>
<g id="k44D" transform="translate(19.5,60.98)"><use href="#bx"/><text class="bt" y="5">D</text></g>
<g id="k44A" transform="translate(44.5,27.15)"><use href="#bx"/><text class="bt" y="5">A</text></g>
<g id="k44C" transform="translate(44.5,94.82)"><use href="#bx"/><text class="bt" y="5">C</text></g>
<g id="k44B" transform="translate(69.5,67.75)"><use href="#bx"/><text class="bt" y="5">B</text></g>
<text class="lf" x="99" y="22.3">a</text><text class="lf" x="99" y="44.5">b</text><text class="lf" x="99" y="62.9">e</text><text class="lf" x="99" y="85.1">f</text><text class="lf" x="99" y="103.5">c</text><text class="lf" x="99" y="125.7">d</text>
<text class="lb" x="15" y="141">125634</text>
</g>

<g id="k45" transform="translate(456,755)">
<g class="conn"><use href="#gl"/><use href="#e5"/></g><use href="#d5"/>
<g id="k45D" transform="translate(19.5,77.9)"><use href="#bx"/><text class="bt" y="5">D</text></g>
<g id="k45A" transform="translate(44.5,108.35)"><use href="#bx"/><text class="bt" y="5">A</text></g>
<g id="k45C" transform="translate(44.5,47.45)"><use href="#bx"/><text class="bt" y="5">C</text></g>
<g id="k45B" transform="translate(69.5,47.45)"><use href="#bx"/><text class="bt" y="5">B</text></g>
<text class="lf" x="99" y="22.3">c</text><text class="lf" x="99" y="42.6">e</text><text class="lf" x="99" y="64.8">f</text><text class="lf" x="99" y="85.1">d</text><text class="lf" x="99" y="103.5">a</text><text class="lf" x="99" y="125.7">b</text>
<text class="lb" x="15" y="141">561423</text>
</g>

<g id="k46" transform="translate(570,755)">
<g class="conn"><use href="#gl"/><use href="#e2"/></g><use href="#d2"/>
<g id="k46D" transform="translate(19.5,57.6)"><use href="#bx"/><text class="bt" y="5">D</text></g>
<g id="k46A" transform="translate(44.5,27.15)"><use href="#bx"/><text class="bt" y="5">A</text></g>
<g id="k46C" transform="translate(44.5,88.05)"><use href="#bx"/><text class="bt" y="5">C</text></g>
<g id="k46B" transform="translate(69.5,88.05)"><use href="#bx"/><text class="bt" y="5">B</text></g>
<text class="lf" x="99" y="22.3">a</text><text class="lf" x="99" y="44.5">b</text><text class="lf" x="99" y="62.9">c</text><text class="lf" x="99" y="83.2">e</text><text class="lf" x="99" y="105.4">f</text><text class="lf" x="99" y="125.7">d</text>
<text class="lb" x="15" y="141">123645</text>
</g>

<g id="k47" transform="translate(684,755)">
<g class="conn"><use href="#gl"/><use href="#e6"/></g><use href="#d6"/>
<g id="k47D" transform="translate(19.5,74.52)"><use href="#bx"/><text class="bt" y="5">D</text></g>
<g id="k47A" transform="translate(44.5,108.35)"><use href="#bx"/><text class="bt" y="5">A</text></g>
<g id="k47C" transform="translate(44.5,40.68)"><use href="#bx"/><text class="bt" y="5">C</text></g>
<g id="k47B" transform="translate(69.5,67.75)"><use href="#bx"/><text class="bt" y="5">B</text></g>
<text class="lf" x="99" y="22.3">c</text><text class="lf" x="99" y="44.5">d</text><text class="lf" x="99" y="62.9">e</text><text class="lf" x="99" y="85.1">f</text><text class="lf" x="99" y="103.5">a</text><text class="lf" x="99" y="125.7">b</text>
<text class="lb" x="15" y="141">561234</text>
</g>

<g id="k48" transform="translate(798,755)">
<g class="conn"><use href="#gl"/><use href="#e3"/></g><use href="#d3"/>
<g id="k48D" transform="translate(19.5,54.22)"><use href="#bx"/><text class="bt" y="5">D</text></g>
<g id="k48A" transform="translate(44.5,27.15)"><use href="#bx"/><text class="bt" y="5">A</text></g>
<g id="k48C" transform="translate(44.5,81.28)"><use href="#bx"/><text class="bt" y="5">C</text></g>
<g id="k48B" transform="translate(69.5,108.35)"><use href="#bx"/><text class="bt" y="5">B</text></g>
<text class="lf" x="99" y="22.3">a</text><text class="lf" x="99" y="44.5">b</text><text class="lf" x="99" y="62.9">c</text><text class="lf" x="99" y="85.1">d</text><text class="lf" x="99" y="103.5">e</text><text class="lf" x="99" y="125.7">f</text>
<text class="lb" x="15" y="141">123456</text>
</g>
</svg>
